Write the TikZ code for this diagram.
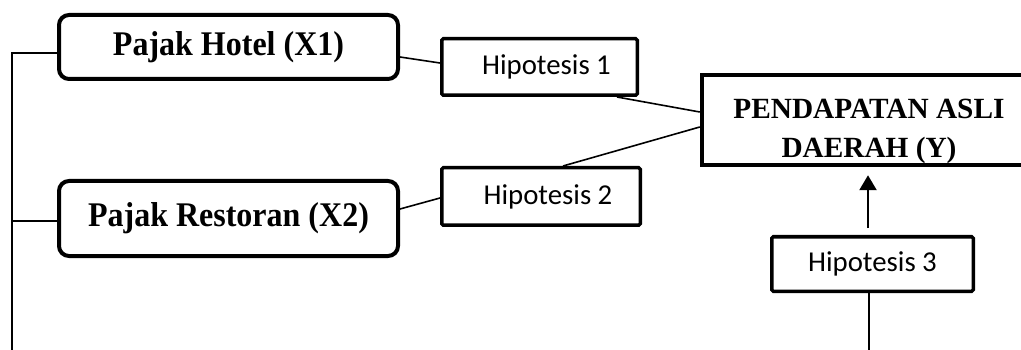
\documentclass[tikz,border=0pt]{standalone}
\usepackage{fontspec}
\setmainfont{Liberation Serif}
\newfontfamily\hypfont{Carlito}
\usetikzlibrary{arrows.meta,calc}
\tikzset{
  varbox/.style={draw, line width=4pt, rounded corners=10pt, inner sep=0pt,
    font=\fontsize{32}{38}\selectfont\bfseries},
  hypbox/.style={draw, line width=3.5pt, rounded corners=1.5pt, inner sep=0pt,
    font=\hypfont\fontsize{28.8}{34}\selectfont},
  padbox/.style={draw, line width=4.5pt, inner sep=0pt},
  padtext/.style={inner sep=0pt, align=center,
    font=\fontsize{29.3}{39}\selectfont\bfseries},
  conn/.style={line width=1.6pt},
  arr/.style={line width=2.5pt, -{Triangle[length=15pt,width=17pt]}}
}
\begin{document}
\begin{tikzpicture}[x=1pt,y=-1pt]
\useasboundingbox (0,0) rectangle (1021,350);
\clip (0,0) rectangle (1021,350);
\node[varbox, minimum width=339pt, minimum height=64pt] (ph) at (228.5,47) {\scalebox{1}[1.08]{Pajak Hotel (X1)}};
\node[varbox, minimum width=339pt, minimum height=75pt] (pr) at (228.5,218.5) {\scalebox{1}[1.08]{Pajak Restoran (X2)}};
\node[hypbox, minimum width=195.5pt, minimum height=56.5pt] (h1) at (539.5,67) {\hspace*{14pt}Hipotesis 1};
\node[hypbox, minimum width=198.5pt, minimum height=57.5pt] (h2) at (541,196.5) {\hspace*{14pt}Hipotesis 2};
\node[padbox, minimum width=328pt, minimum height=90pt] (pad) at (866,120) {};
\node[padtext] (padt) at (869,131) {PENDAPATAN ASLI\\DAERAH (Y)};
\node[hypbox, minimum width=201.5pt, minimum height=54.5pt] (h3) at (872.5,264) {Hipotesis 3};
\coordinate (spinetop) at (12,53);
\coordinate (spinebot) at (12,352);
\coordinate (h3bot) at (869,352);
\coordinate (arrbot) at ([xshift=-4.5pt,yshift=6.75pt]h3.north);
\draw[conn] ([yshift=-6pt]ph.west) -- (spinetop) -- (spinebot);
\draw[conn] ([yshift=-2.5pt]pr.west) -- ([yshift=-2.5pt]pr.west -| spinetop);
\draw[conn] ([yshift=-10pt]ph.east) -- ([yshift=4pt]h1.west);
\draw[conn] ([yshift=9.5pt]pr.east) -- ([yshift=-1.5pt]h2.west);
\draw[conn] ([xshift=77.5pt]h1.south) -- ([yshift=8pt]pad.west);
\draw[conn] ([xshift=22pt]h2.north) -- ([yshift=-7pt]pad.west);
\draw[arr, shorten >=8pt] (arrbot) -- (arrbot |- pad.south);
\draw[conn] (h3bot |- h3.south) -- (h3bot);
\end{tikzpicture}
\end{document}
